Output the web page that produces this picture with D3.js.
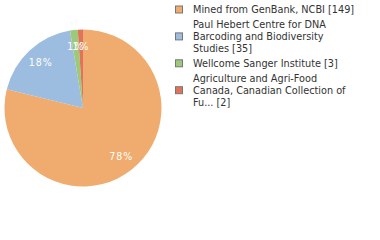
<!DOCTYPE html>
<html><head><meta charset="utf-8">
<script src="https://cdn.jsdelivr.net/npm/d3@7"></script>
<style>body{margin:0;background:#fff}svg{display:block}</style>
</head><body>
<script>
const categories = ["Mined from GenBank, NCBI [149]","Paul Hebert Centre for DNA Barcoding and Biodiversity Studies [35]","Wellcome Sanger Institute [3]","Agriculture and Agri-Food Canada, Canadian Collection of Fu... [2]"];
const legendLines = [["Mined from GenBank, NCBI [149]"],["Paul Hebert Centre for DNA","Barcoding and Biodiversity","Studies [35]"],["Wellcome Sanger Institute [3]"],["Agriculture and Agri-Food","Canada, Canadian Collection of","Fu... [2]"]];
const values = [149,35,3,2];
const colors = ["#F0AC6E","#9DBDE0","#9DC97A","#E0735A"];

const W=380,H=240, cx=83, cy=108, R=78.5;
const svg=d3.select("body").append("svg").attr("width",W).attr("height",H);
const total=d3.sum(values);
const pie=d3.pie().sort(null).value(d=>d)(values);
const arc=d3.arc().innerRadius(0).outerRadius(R);
const lab=d3.arc().innerRadius(R*0.79).outerRadius(R*0.79);
const g=svg.append("g").attr("transform",`translate(${cx},${cy})`);
g.selectAll("path").data(pie).join("path").attr("d",arc).attr("fill",(d,i)=>colors[i]);
g.selectAll("text").data(pie).join("text")
 .attr("transform",d=>`translate(${lab.centroid(d)})`)
 .attr("text-anchor","middle").attr("dy","0.35em")
 .attr("font-family","DejaVu Sans Condensed").attr("font-size",10.5).attr("fill","#fff")
 .attr("letter-spacing",1)
 .text(d=>Math.floor(d.value/total*100)+"%");

const lg=svg.append("g").attr("font-family","DejaVu Sans Condensed").attr("font-size",10.8).attr("fill","#333");
let y=9.5;
legendLines.forEach((lines,i)=>{
  const n=lines.length, mid=y+(n-1)*11.7/2;
  lg.append("rect").attr("x",175.5).attr("y",mid-3.5).attr("width",7).attr("height",7)
    .attr("fill",colors[i]).attr("stroke","#777").attr("stroke-width",1);
  lines.forEach((t,j)=>lg.append("text").attr("x",193).attr("y",y+j*11.7).attr("dy","0.35em").text(t));
  y+=n*11.7+3.5;
});
</script>
</body></html>
